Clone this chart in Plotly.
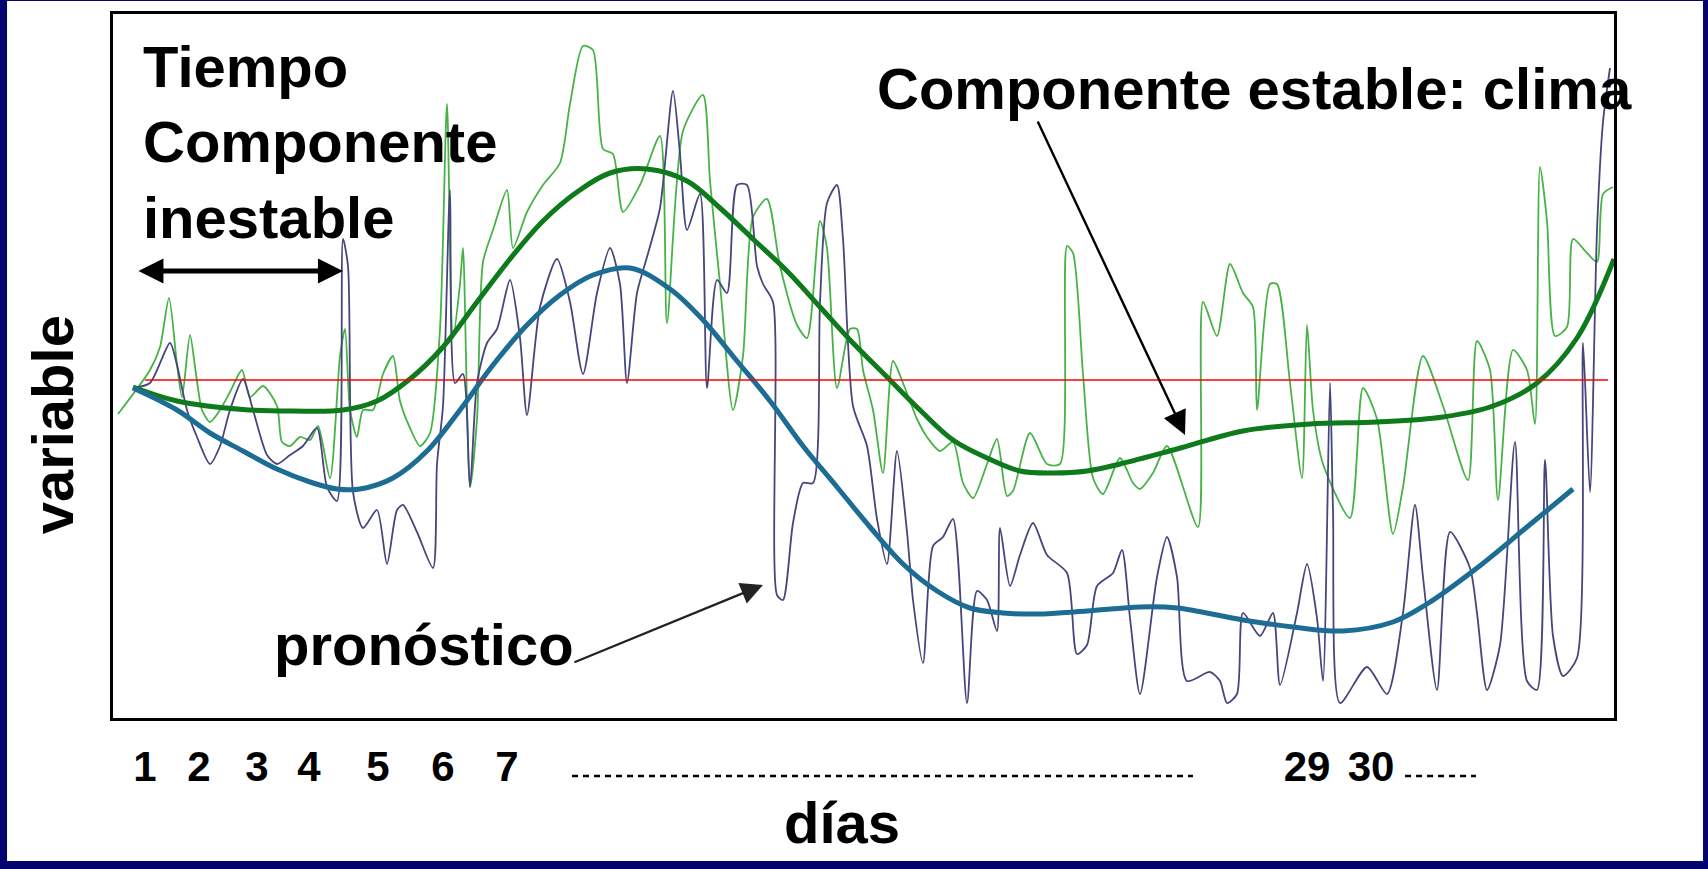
import plotly.graph_objects as go

# ---------------- data (arbitrary units) ----------------
# noisy "tiempo" series (light green)
green_x = [0.5, 3.7, 4.7, 5.6, 6.4, 6.9, 7.7, 8.3, 8.9, 9.7, 10.7, 11.7, 12.9, 13.7, 15.0, 16.4, 16.9, 17.7,
           18.7, 19.7, 20.5, 21.7, 22.7, 23.2, 23.7, 24.4, 25.0, 26.0, 27.0, 28.0, 28.7, 29.7, 30.7, 31.7,
           32.7, 33.4, 34.0, 34.7, 35.0, 35.7, 36.4, 37.0, 38.0, 39.4, 40.0, 41.4, 43.0, 44.7, 45.7, 47.0,
           48.0, 49.0, 50.0, 51.0, 52.7, 54.7, 55.4, 57.0, 59.0, 59.7, 60.7, 62.0, 63.0, 64.0, 65.4, 66.7,
           68.4, 69.4, 70.7, 71.4, 72.4, 73.7, 74.4, 75.0, 76.0, 77.0, 78.0, 79.0, 80.4, 81.4, 82.7, 84.0,
           85.0, 86.0, 87.4, 88.4, 89.4, 90.0, 91.7, 93.4, 94.7, 95.4, 96.0, 97.0, 98.0, 99.0, 100.7, 102.0,
           102.7, 104.0, 105.4, 108.5, 109.0, 110.4, 111.7, 113.0, 114.0, 114.4, 115.7, 116.4, 117.7, 118.9,
           119.4, 120.0, 121.0, 123.7, 125.0, 126.4, 128.0, 129.0, 131.0, 133.0, 135.5, 136.4, 137.7, 138.5,
           140.0, 141.4, 142.2, 142.7, 143.4, 144.2, 145.4, 146.0, 147.4, 148.4, 149.0, 150.0]
green_y = [30.4, 34.8, 37.1, 42.0, 35.3, 32.1, 38.3, 34.4, 30.8, 29.6, 30.8, 32.6, 34.8, 32.1, 33.2, 31.2, 27.6, 27.2,
           28.1, 27.8, 29.2, 24.0, 36.2, 38.9, 30.8, 28.1, 30.8, 30.8, 34.4, 36.2, 31.7, 29.0, 27.2, 28.5,
           38.9, 61.4, 38.0, 43.4, 47.0, 23.1, 29.9, 45.6, 48.8, 52.8, 47.0, 50.6, 53.3, 55.5, 61.4, 67.2,
           66.8, 56.9, 56.4, 50.6, 53.3, 58.2, 39.5, 58.7, 62.3, 53.7, 43.4, 30.8, 36.2, 50.1, 51.9, 45.2,
           39.3, 38.0, 49.7, 47.0, 33.0, 38.9, 38.9, 34.8, 30.8, 24.5, 35.7, 33.5, 29.9, 28.1, 26.7, 27.6,
           23.5, 22.0, 25.4, 27.9, 22.2, 22.7, 28.5, 25.4, 25.4, 47.2, 46.5, 34.4, 24.0, 22.4, 26.0, 23.5,
           22.9, 24.5, 27.2, 19.1, 41.6, 38.2, 45.4, 42.5, 41.1, 30.8, 43.4, 43.4, 33.5, 24.0,
           39.3, 30.8, 25.4, 20.0, 33.0, 29.9, 18.4, 23.1, 36.2, 31.2, 23.8, 37.7, 34.8, 21.8,
           36.8, 34.8, 29.4, 55.1, 49.7, 38.2, 39.1, 47.9, 46.5, 45.6, 52.4, 53.1]

# noisy "pronóstico" series (purple)
purple_x = [2.0, 3.7, 5.7, 6.4, 7.4, 8.4, 9.7, 10.7, 11.7, 13.0, 14.0, 15.4, 16.4, 17.7, 19.0, 20.4, 21.4, 22.4,
            23.0, 23.5, 24.0, 25.0, 26.4, 27.4, 28.4, 29.0, 30.4, 32.0, 32.4, 33.0, 33.7, 34.2, 35.0, 35.7,
            36.4, 37.4, 38.4, 39.7, 40.7, 41.4, 42.7, 44.4, 45.7, 47.0, 48.4, 49.7, 50.7, 51.4, 52.4, 53.4,
            54.7, 56.0, 56.7, 57.4, 58.7, 59.4, 60.4, 61.4, 62.4, 63.4, 64.4, 65.0, 66.0, 66.4, 67.0, 68.0,
            69.0, 70.0, 70.7, 71.4, 72.4, 73.0, 74.0, 75.4, 76.4, 77.4, 78.4, 79.4, 80.0, 81.0, 82.0, 83.0,
            84.0, 85.4, 86.4, 87.4, 88.4, 88.7, 89.7, 90.7, 92.0, 93.4, 95.4, 96.4, 97.4, 98.4, 100.0, 100.9,
            101.7, 102.7, 104.4, 105.4, 106.4, 107.4, 109.7, 110.7, 111.4, 112.4, 113.0, 114.7, 116.0, 116.7,
            118.4, 119.4, 120.4, 121.0, 121.7, 122.0, 122.7, 125.4, 127.4, 129.0, 130.2, 131.0, 132.4, 133.7,
            135.7, 136.4, 137.4, 138.7, 140.2, 141.4, 142.4, 143.2, 144.0, 145.0, 146.4, 147.0, 147.7, 148.4,
            149.0, 149.7]
purple_y = [33.0, 33.5, 37.5, 35.3, 30.8, 28.1, 25.4, 27.2, 30.8, 33.9, 30.8, 26.3, 25.4, 26.3, 27.2, 29.0, 23.1, 21.7,
            47.9, 45.2, 22.6, 19.0, 20.8, 15.4, 20.8, 21.3, 18.6, 15.0, 25.4, 31.2, 52.8, 33.5, 34.4, 23.1,
            33.5, 37.5, 38.9, 43.8, 38.0, 30.3, 41.1, 45.9, 41.6, 34.4, 42.5, 47.0, 43.4, 33.5, 42.5, 46.1,
            51.0, 62.7, 56.4, 48.8, 52.4, 33.0, 43.8, 42.5, 53.3, 53.3, 45.2, 43.4, 41.6, 12.3, 11.8, 19.5,
            23.5, 23.5, 41.6, 51.5, 53.3, 47.9, 31.2, 27.2, 19.9, 15.4, 26.7, 18.6, 11.8, 5.5, 17.2, 18.1,
            19.9, 1.5, 12.7, 11.8, 8.7, 19.0, 13.2, 16.3, 19.5, 16.3, 14.5, 6.4, 7.3, 13.2, 14.5, 16.8,
            10.0, 2.4, 14.1, 18.1, 14.1, 3.7, 4.6, 3.7, 1.5, 2.4, 10.5, 8.2, 10.5, 3.3,
            10.5, 15.4, 10.0, 3.7, 33.5, 20.8, 1.5, 5.1, 2.4, 10.5, 21.3, 14.1, 2.8, 18.6,
            15.0, 10.5, 2.8, 7.3, 27.6, 3.7, 2.8, 25.8, 8.2, 4.2, 6.0, 37.5, 22.6, 48.8,
            59.6, 65.0]

# smooth "clima" component (dark green)
clima_x = [2.0, 6.4, 13.0, 18.0, 23.0, 26.4, 29.7, 33.0, 36.4, 39.7, 43.0, 46.4, 49.7, 53.4, 57.4, 60.7, 64.0,
           67.4, 70.7, 74.0, 77.4, 80.7, 84.0, 87.4, 90.7, 94.0, 97.4, 100.7, 106.4, 113.0, 119.7, 126.4,
           133.0, 138.0, 142.4, 146.4, 150.1]
clima_y = [33.1, 31.7, 30.85, 30.7, 30.8, 31.7, 33.9, 37.1, 41.6, 45.9, 49.7, 52.6, 54.5, 54.9, 53.7, 51.0, 47.9,
           44.7, 41.1, 37.5, 34.1, 30.8, 27.8, 26.0, 24.7, 24.5, 24.7, 25.4, 26.9, 28.7, 29.4, 29.6,
           30.1, 31.2, 33.5, 38.0, 45.9]

# smooth forecast component (blue)
prono_x = [2.0, 6.4, 9.7, 13.0, 16.4, 19.7, 22.4, 24.7, 28.0, 31.4, 34.7, 38.0, 41.4, 44.7, 48.0, 51.7, 55.7,
           59.0, 62.4, 65.7, 69.0, 72.4, 75.7, 79.0, 82.4, 85.7, 89.0, 92.4, 97.4, 102.7, 106.4, 113.0,
           118.0, 123.0, 128.0, 131.4, 136.4, 141.4, 146.0]
prono_y = [33.0, 30.8, 28.5, 26.7, 24.9, 23.6, 22.9, 22.9, 24.0, 26.7, 30.8, 35.3, 39.3, 42.3, 44.3, 45.0, 42.9,
           39.8, 35.7, 31.7, 27.2, 23.1, 19.1, 15.4, 12.7, 11.0, 10.5, 10.4, 10.7, 11.1, 11.0, 9.8,
           9.1, 8.7, 9.6, 11.4, 15.0, 19.1, 22.9]

# reference (mean) level
ref_x = [3.2, 149.5]
ref_y = [33.8, 33.8]

# day tick labels
tick_pos = [3.2, 8.6, 14.4, 19.6, 26.5, 33.0, 39.4, 119.4, 125.8]
tick_txt = ["1", "2", "3", "4", "5", "6", "7", "29", "30"]

FONT = "Liberation Sans, Arial, sans-serif"

fig = go.Figure()
fig.add_trace(go.Scatter(x=green_x, y=green_y, mode="lines",
                         line=dict(color="#47b347", width=1.8, shape="spline", smoothing=0.7),
                         hoverinfo="skip", showlegend=False))
fig.add_trace(go.Scatter(x=purple_x, y=purple_y, mode="lines",
                         line=dict(color="#46467c", width=1.8, shape="spline", smoothing=0.7),
                         hoverinfo="skip", showlegend=False))
fig.add_trace(go.Scatter(x=clima_x, y=clima_y, mode="lines",
                         line=dict(color="#0e7a1c", width=5, shape="spline", smoothing=1.0),
                         hoverinfo="skip", showlegend=False))
fig.add_trace(go.Scatter(x=prono_x, y=prono_y, mode="lines",
                         line=dict(color="#1c6c94", width=5, shape="spline", smoothing=1.0),
                         hoverinfo="skip", showlegend=False))
fig.add_trace(go.Scatter(x=ref_x, y=ref_y, mode="lines",
                         line=dict(color="#ff0000", width=1.6),
                         hoverinfo="skip", showlegend=False))

big = dict(family=FONT, size=58, color="black", weight="bold")

annotations = [
    dict(text="Tiempo<br>Componente<br>inestable", x=0.0193, y=0.8185, xref="paper", yref="paper",
         xanchor="left", yanchor="middle", align="left", showarrow=False, font=big, borderpad=0),
    dict(text="Componente estable: clima", x=0.5083, y=0.894, xref="paper", yref="paper",
         xanchor="left", yanchor="middle", showarrow=False, font=big, borderpad=0),
    dict(text="pronóstico", x=0.1063, y=0.104, xref="paper", yref="paper",
         xanchor="left", yanchor="middle", showarrow=False, font=big, borderpad=0),
    dict(text="días", x=0.4857, y=-0.149, xref="paper", yref="paper",
         xanchor="center", yanchor="middle", showarrow=False, font=big, borderpad=0),
    dict(text="variable", x=-0.0405, y=0.416, xref="paper", yref="paper", textangle=-90,
         xanchor="center", yanchor="middle", showarrow=False, font=big, borderpad=0),
    # double arrow
    dict(text="", x=0.1532, y=0.635, xref="paper", yref="paper", ax=-206, ay=0,
         showarrow=True, arrowside="end+start", arrowhead=2, arrowsize=1, arrowwidth=5, arrowcolor="black"),
    # arrow to clima
    dict(text="", x=0.7142, y=0.402, xref="paper", yref="paper", ax=-148, ay=-315,
         showarrow=True, arrowhead=2, arrowsize=2, arrowwidth=2.4, arrowcolor="black"),
    # arrow to pronostico
    dict(text="", x=0.4330, y=0.189, xref="paper", yref="paper", ax=-190, ay=78,
         showarrow=True, arrowhead=2, arrowsize=2, arrowwidth=2.2, arrowcolor="#222222"),
]

shapes = [
    # white slide panel inside the navy frame
    dict(type="rect", xref="paper", yref="paper", x0=-0.0706, x1=1.0593, y0=-0.2031, y1=1.0185,
         fillcolor="white", line=dict(width=0), layer="below"),
    # dotted continuation of the day axis
    dict(type="line", xref="paper", yref="paper", x0=0.3058, x1=0.7195, y0=-0.0824, y1=-0.0824,
         line=dict(color="black", width=2.5, dash="6px,5px")),
    dict(type="line", xref="paper", yref="paper", x0=0.8608, x1=0.908, y0=-0.0824, y1=-0.0824,
         line=dict(color="black", width=2.5, dash="6px,5px")),
]

fig.update_layout(
    width=1708, height=869,
    margin=dict(l=113, r=94, t=14, b=151, pad=0),
    paper_bgcolor="#04046e",
    plot_bgcolor="white",
    showlegend=False,
    annotations=annotations,
    shapes=shapes,
    xaxis=dict(range=[0, 150.1], showgrid=False, zeroline=False, showline=True, mirror=True,
               linecolor="black", linewidth=3, ticks="", tickvals=tick_pos, ticktext=tick_txt,
               tickfont=dict(family=FONT, size=42, color="black", weight="bold"),
               ticklabelstandoff=10, fixedrange=True),
    yaxis=dict(range=[0, 70.4], showgrid=False, zeroline=False, showline=True, mirror=True,
               linecolor="black", linewidth=3, showticklabels=False, ticks="", fixedrange=True),
)

fig.write_html("out.html", config={"displayModeBar": False},
               post_script="document.body.style.margin='0';document.body.style.overflow='hidden';")
